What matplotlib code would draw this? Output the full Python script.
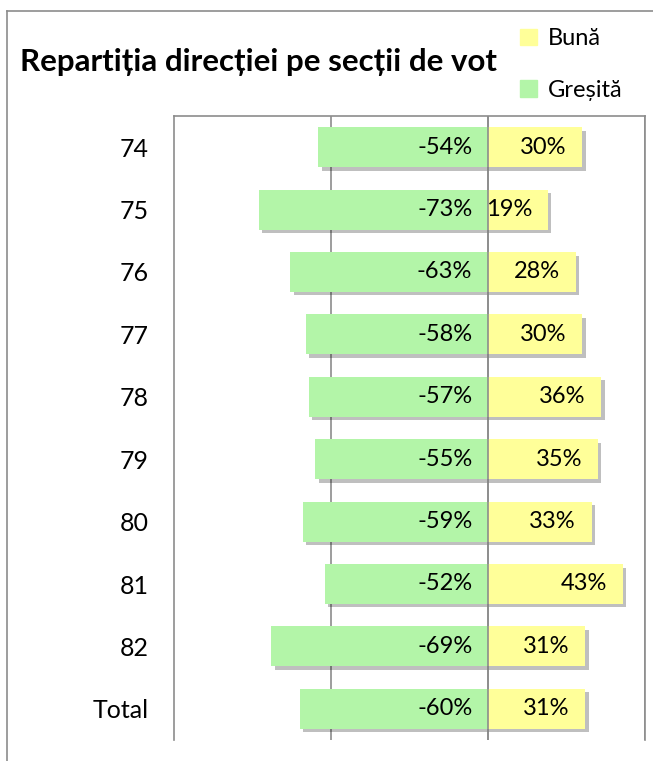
import matplotlib.pyplot as plt
import matplotlib.patheffects as pe
from matplotlib.lines import Line2D
from matplotlib.patches import Patch
import numpy as np

plt.rcParams['font.family'] = ['Lato', 'DejaVu Sans']

# data
sections = ['74', '75', '76', '77', '78', '79', '80', '81', '82', 'Total']
gresita = [-54, -73, -63, -58, -57, -55, -59, -52, -69, -60]
buna = [30, 19, 28, 30, 36, 35, 33, 43, 31, 31]

green = '#b3f5a8'
yellow = '#ffff99'
grid_col = '#8c8c8c'

fig = plt.figure(figsize=(6.53, 7.61), dpi=100)
ax = fig.add_axes([174/653, 1 - 740/761, (645 - 174)/653, (740 - 116)/761])

y = np.arange(len(sections))
shadow = [pe.withSimplePatchShadow(offset=(2.5, -2.5), shadow_rgbFace='k', alpha=0.25)]
ax.barh(y, gresita, height=0.64, color=green, path_effects=shadow, zorder=3)
ax.barh(y, buna, height=0.64, color=yellow, path_effects=shadow, zorder=3)

for i in range(len(sections)):
    ax.text(-5, y[i], f'{gresita[i]}%', ha='right', va='center', fontsize=17, zorder=5)
    ax.text(buna[i] - 5, y[i], f'{buna[i]}%', ha='right', va='center', fontsize=17, zorder=5)

ax.set_xlim(-100, 50)
ax.set_ylim(len(sections) - 0.5, -0.5)
ax.set_xticks([-50, 0, 50])
ax.xaxis.grid(True, color=grid_col, linewidth=1.2, zorder=4)
ax.set_axisbelow(False)
ax.tick_params(axis='x', bottom=False, labelbottom=False)
ax.set_yticks(y)
ax.set_yticklabels(sections, fontsize=18)
ax.tick_params(axis='y', length=0, pad=18)
for s in ['left', 'top', 'right']:
    ax.spines[s].set_color(grid_col)
    ax.spines[s].set_linewidth(1.2)
ax.spines['bottom'].set_visible(False)

# zero line on top of bars
ax.axvline(0, color=grid_col, linewidth=1.2, zorder=4)

fig.text(20/653, 1 - 62/761, 'Repartiția direcției pe secții de vot',
         fontsize=22.5, fontweight='bold', va='center', ha='left')

handles = [Patch(color=yellow), Patch(color=green)]
fig.legend(handles, ['Bună', 'Greșită'], loc='upper left',
           bbox_to_anchor=(499/653, 1 - 7/761), frameon=False, fontsize=17,
           handlelength=0.7, handleheight=0.7, handletextpad=0.45, labelspacing=1.3)

# outer chart border
fig.add_artist(Line2D([7/653, 7/653], [0, 1 - 11/761], color=grid_col, lw=1.2, transform=fig.transFigure))
fig.add_artist(Line2D([7/653, 1], [1 - 11/761, 1 - 11/761], color=grid_col, lw=1.2, transform=fig.transFigure))

fig.savefig('out.png', dpi=100)
